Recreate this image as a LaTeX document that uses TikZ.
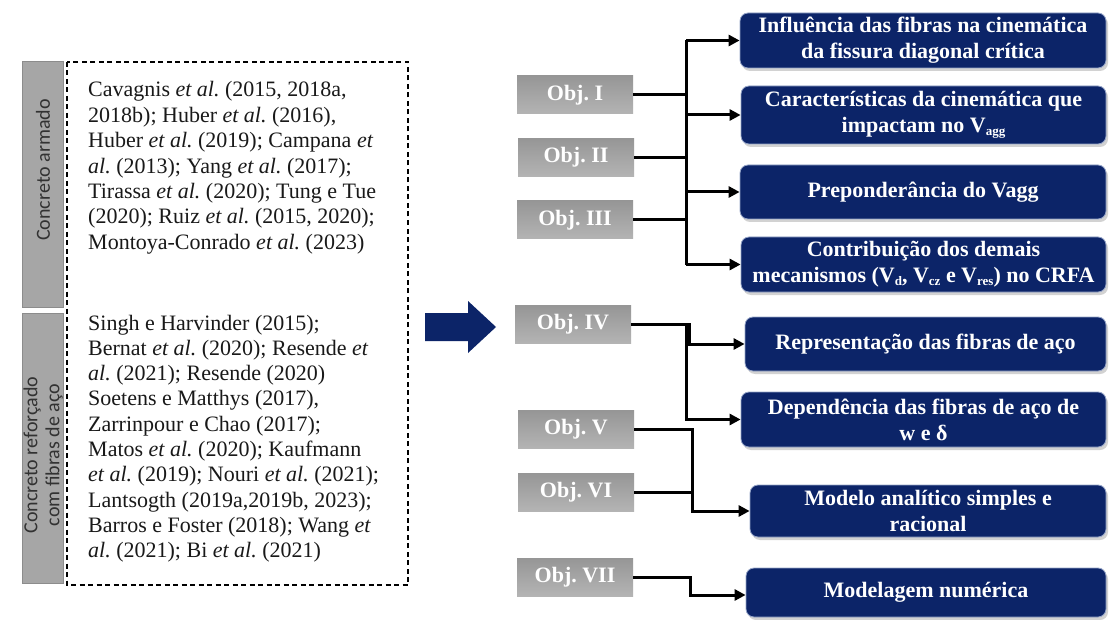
\documentclass[tikz,border=0pt]{standalone}
\usepackage{fontspec}
\setmainfont{Liberation Serif}
\newfontfamily\labelfont{Carlito}
\usetikzlibrary{arrows.meta,calc,shadows}
\definecolor{navy}{RGB}{12,36,104}
\definecolor{navyedge}{RGB}{150,165,200}
\definecolor{boxgray}{RGB}{166,166,166}
\definecolor{boxedge}{RGB}{140,140,140}
\definecolor{objtop}{RGB}{150,150,150}
\definecolor{objbot}{RGB}{180,180,180}
\definecolor{labtext}{RGB}{50,50,50}
\definecolor{citetext}{RGB}{25,25,25}
\newcommand{\sbx}[1]{\raisebox{-0.3ex}{\fontsize{13}{13}\selectfont #1}}
\frenchspacing
\begin{document}
\begin{tikzpicture}[x=1pt,y=-1pt,
  graybox/.style={draw=boxedge, line width=1pt, fill=boxgray, inner sep=0pt},
  graylabel/.style={rotate=90, align=center, text=labtext, inner sep=0pt,
    font=\labelfont\fontsize{20}{22}\selectfont},
  dashbox/.style={draw=black, line width=1.5pt, dash pattern=on 5pt off 3.5pt},
  cite/.style={anchor=base west, inner sep=0pt, text=citetext,
    font=\fontsize{22}{25}\selectfont},
  bluebox/.style={rectangle, rounded corners=8pt, fill=navy, draw=navyedge,
    line width=0.8pt, inner sep=0pt, align=center, text=white,
    font=\bfseries\fontsize{22}{26}\selectfont,
    drop shadow={shadow xshift=2pt, shadow yshift=-3pt, fill=black!35}},
  objbox/.style={rectangle, minimum width=116pt, minimum height=38pt,
    inner sep=0pt, top color=objtop, bottom color=objbot, text=white,
    font=\bfseries\fontsize{22}{24}\selectfont},
  conn/.style={line width=3pt, line join=miter, draw=black},
  arr/.style={conn, -{Triangle[length=11pt,width=11pt]}}
]
\useasboundingbox (0,0) rectangle (1110,620);
\fill[white] (0,0) rectangle (1110,620);

% ---- left column ----
\node[graybox, minimum width=41pt, minimum height=245pt] (g1) at (42.5,184.5) {};
\node[graybox, minimum width=41pt, minimum height=270pt] (g2) at (42.5,448) {};
\node[graylabel] (t1) at (43,170) {Concreto armado};
\node[graylabel] (t2) at (43,455) {Concreto reforçado\\com fibras de aço};
\draw[dashbox] (67,62) rectangle (408,585);

\foreach \t [count=\i from 0] in {
  {Cavagnis \textit{et al.} (2015, 2018a,},
  {2018b); Huber \textit{et al.} (2016),},
  {Huber \textit{et al.} (2019); Campana \textit{et}},
  {\textit{al.} (2013); Yang \textit{et al.} (2017);},
  {Tirassa \textit{et al.} (2020); Tung e Tue},
  {(2020); Ruiz \textit{et al.} (2015, 2020);},
  {Montoya-Conrado \textit{et al.} (2023)}}
  \node[cite] (ca\i) at (88,{97+25.4*\i}) {\t};

\foreach \t [count=\i from 0] in {
  {Singh e Harvinder (2015);},
  {Bernat \textit{et al.} (2020); Resende \textit{et}},
  {\textit{al.} (2021); Resende (2020)},
  {Soetens e Matthys (2017),},
  {Zarrinpour e Chao (2017);},
  {Matos \textit{et al.} (2020); Kaufmann},
  {\textit{et al.} (2019); Nouri \textit{et al.} (2021);},
  {Lantsogth (2019a,2019b, 2023);},
  {Barros e Foster (2018); Wang \textit{et}},
  {\textit{al.} (2021); Bi \textit{et al.} (2021)}}
  \node[cite] (cb\i) at (88,{330+25.3*\i}) {\t};

% ---- big arrow ----
\fill[navy] (425,313) -- (468,313) -- (468,301) -- (496,327) -- (468,353)
  -- (468,341) -- (425,341) -- cycle;

% ---- objectives ----
\node[objbox] (o1) at (575,95) {Obj. I};
\node[objbox] (o2) at (576,157.5) {Obj. II};
\node[objbox] (o3) at (575,220) {Obj. III};
\node[objbox] (o4) at (573,324.5) {Obj. IV};
\node[objbox] (o5) at (576,429.5) {Obj. V};
\node[objbox] (o6) at (576,492) {Obj. VI};
\node[objbox] (o7) at (575,577) {Obj. VII};

% ---- blue boxes ----
\node[bluebox, minimum width=366pt, minimum height=55pt] (b1) at (923,40.5)
  {Influência das fibras na cinemática\\da fissura diagonal crítica};
\node[bluebox, minimum width=365pt, minimum height=58pt] (b2) at (923.5,115)
  {Características da cinemática que\\impactam no V\sbx{agg}};
\node[bluebox, minimum width=366pt, minimum height=54pt] (b3) at (923,192)
  {Preponderância do Vagg};
\node[bluebox, minimum width=365pt, minimum height=55pt] (b4) at (923.5,264.5)
  {Contribuição dos demais\\mecanismos (V\sbx{d}, V\sbx{cz} e V\sbx{res}) no CRFA};
\node[bluebox, minimum width=361pt, minimum height=54pt] (b5) at (925.5,344)
  {Representação das fibras de aço};
\node[bluebox, minimum width=365pt, minimum height=55pt] (b6) at (923.5,419.5)
  {Dependência das fibras de aço de\\w e δ};
\node[bluebox, minimum width=356pt, minimum height=52pt] (b7) at (928,511)
  {Modelo analítico simples e\\racional};
\node[bluebox, minimum width=360pt, minimum height=49pt] (b8) at (926,592.5)
  {Modelagem numérica};

% ---- connectors group 1 ----
\coordinate (v1) at (686,0);
\draw[conn] (o1.east) -- (o1.east -| v1);
\draw[conn] (o2.east) -- (o2.east -| v1);
\draw[conn] (o3.east) -- (o3.east -| v1);
\draw[conn] (b1.west -| v1) -- (b4.west -| v1);
\foreach \b in {b1,b2,b3,b4} \draw[arr] (\b.west -| v1) -- (\b.west);

% ---- group 2 ----
\coordinate (v2) at (689,0);
\coordinate (v2b) at (686,0);
\draw[arr] (o4.east) -| (b5.west -| v2) -- (b5.west);
\draw[arr] (o4.east -| v2b) |- (b6.west);

% ---- group 3 ----
\coordinate (v3) at (692,0);
\draw[conn] (o5.east) -| (o6.east -| v3);
\draw[arr] (o6.east) -| (b7.west -| v3) -- (b7.west);

% ---- group 4 ----
\coordinate (v4) at (690,595);
\draw[arr] (o7.east) -| (v4) -- (v4 -| b8.west);
\end{tikzpicture}
\end{document}
